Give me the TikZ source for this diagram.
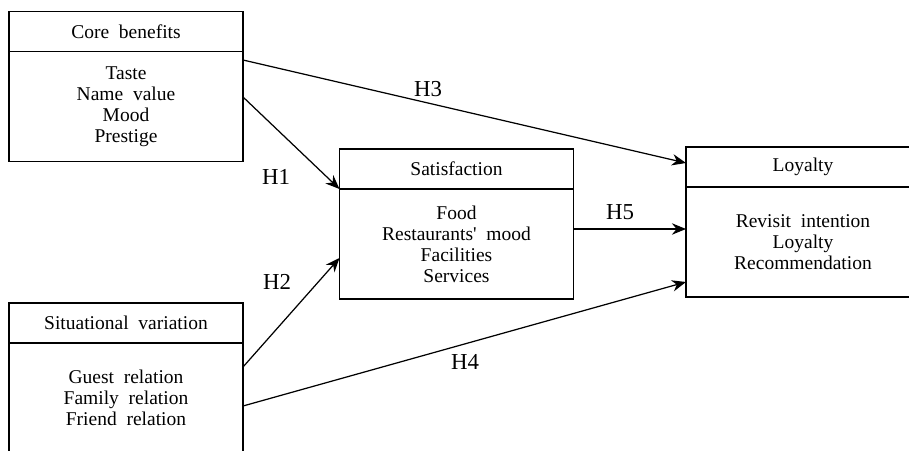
\documentclass[tikz,border=0pt]{standalone}
\usepackage{fontspec}
\setmainfont{Liberation Serif}[WordSpace=2]
\usetikzlibrary{arrows.meta,positioning}

\begin{document}
\begin{tikzpicture}[>={Stealth[length=8pt,width=6.5pt]},line width=0.7pt,
  boxhead/.style={draw,outer sep=0pt,inner sep=0pt,minimum width=4.68cm,minimum height=0.8cm,font=\fontsize{11.1}{11.9}\selectfont},
  boxbody/.style={draw,outer sep=0pt,inner sep=0pt,minimum width=4.68cm,minimum height=2.2cm,align=center,font=\fontsize{11.1}{11.9}\selectfont},
  hlabel/.style={font=\fontsize{13}{14}\selectfont}]
\useasboundingbox (0,0) rectangle (18.18,9);
\clip (0,0) rectangle (18.18,9);
% boxes
\node[boxhead] (corehead) at (2.52,8.37) {Core benefits};
\node[boxbody,below=0pt of corehead] (corebody) {Taste\\Name value\\Mood\\Prestige};
\node[boxhead] (sithead) at (2.52,2.54) {Situational variation};
\node[boxbody,below=0pt of sithead] (sitbody) {Guest relation\\Family relation\\Friend relation};
\node[boxhead] (sathead) at (9.13,5.62) {Satisfaction};
\node[boxbody,below=0pt of sathead] (satbody) {Food\\Restaurants\textquotesingle{} mood\\Facilities\\Services};
\node[boxhead] (loyhead) at (16.06,5.66) {Loyalty};
\node[boxbody,below=0pt of loyhead] (loybody) {Revisit intention\\Loyalty\\Recommendation};
% hypotheses
\draw[->] ([yshift=0.19cm]corebody.east) -- (satbody.north west);
\draw[->] ([yshift=0.62cm]sitbody.east) -- ([yshift=-0.28cm]satbody.west);
\draw[->] ([yshift=-0.17cm]corebody.north east) -- ([yshift=0.08cm]loyhead.west);
\draw[->] ([yshift=-0.16cm]sitbody.east) -- ([yshift=-0.8cm]loybody.west);
\draw[->] ([yshift=0.3cm]satbody.east) -- ([yshift=0.26cm]loybody.west);
\node[hlabel] (h1) at (5.52,5.46) {H1};
\node[hlabel] (h2) at (5.54,3.36) {H2};
\node[hlabel] (h3) at (8.56,7.22) {H3};
\node[hlabel] (h4) at (9.3,1.76) {H4};
\node[hlabel] (h5) at (12.4,4.76) {H5};
\end{tikzpicture}
\end{document}
